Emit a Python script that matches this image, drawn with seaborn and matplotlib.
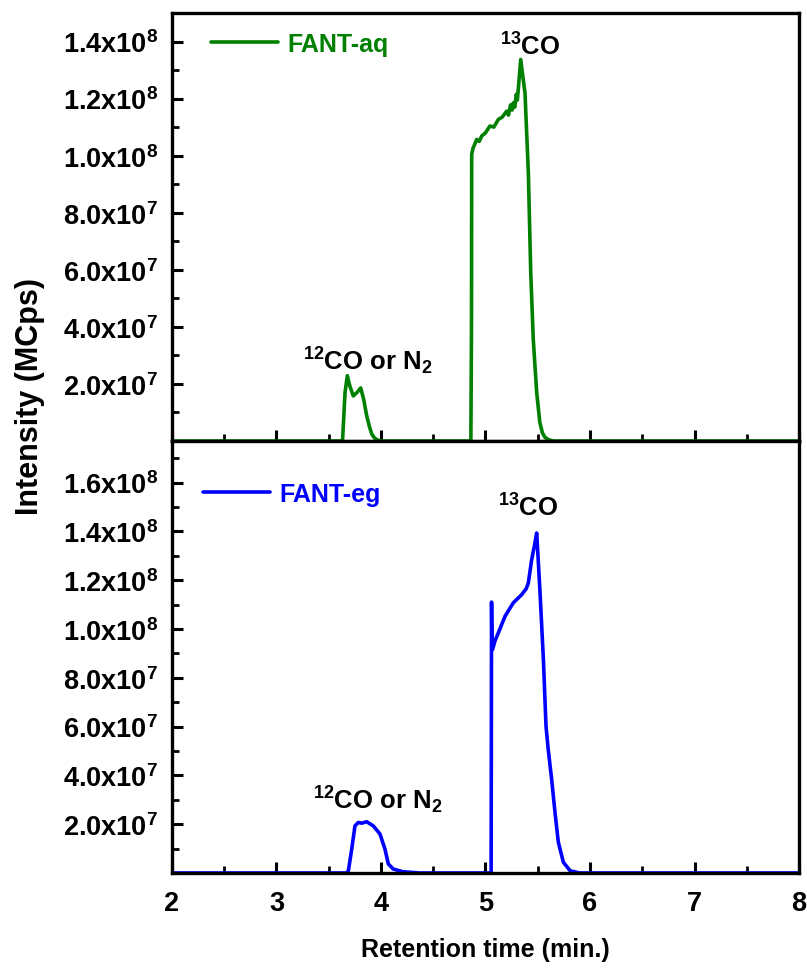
import numpy as np
import pandas as pd
import matplotlib
matplotlib.use("Agg")
import matplotlib.pyplot as plt
import seaborn as sns
from matplotlib.ticker import FixedLocator, MultipleLocator, FuncFormatter

sns.set_theme(style="white")
plt.rcParams['font.family'] = ['Liberation Sans', 'DejaVu Sans']
plt.rcParams['mathtext.default'] = 'regular'
plt.rcParams['text.color'] = 'black'
plt.rcParams['xtick.color'] = 'black'
plt.rcParams['ytick.color'] = 'black'
plt.rcParams['axes.labelcolor'] = 'black'

# ---- data (retention time in min, intensity in counts) ----
time_aq = [2.0, 3.62, 3.633, 3.656, 3.678, 3.70, 3.735, 3.77, 3.806, 3.835, 3.863, 3.89, 3.911,
           3.935, 3.959, 4.0, 4.86, 4.866, 4.868, 4.88, 4.916, 4.94, 4.964, 5.0, 5.043, 5.08,
           5.123, 5.16, 5.203, 5.22, 5.24, 5.255, 5.266, 5.28, 5.295, 5.305, 5.32, 5.337,
           5.36, 5.378, 5.41, 5.433, 5.457, 5.49, 5.52, 5.545, 5.569, 5.60, 5.65, 8.0]
int_aq = [0, 0, 0.7e6, 17e6, 22.9e6, 19.5e6, 15.8e6, 17.0e6, 18.6e6, 14.5e6, 8.9e6, 5.0e6, 2.5e6,
          1.2e6, 0.5e6, 0, 0, 40e6, 100.5e6, 102.5e6, 105.7e6, 105.0e6, 106.9e6, 108.0e6, 110.4e6,
          110.0e6, 112.7e6, 113.5e6, 115.6e6, 114.2e6, 117.8e6, 116.0e6, 118.5e6, 117.0e6,
          121.5e6, 119.5e6, 126.0e6, 133.7e6, 127.0e6, 122.0e6, 94.0e6, 59.0e6, 35.7e6, 17.0e6,
          6.5e6, 2.8e6, 1.3e6, 0.5e6, 0, 0]

time_eg = [2.0, 3.67, 3.688, 3.72, 3.751, 3.783, 3.815, 3.863, 3.926, 3.99, 4.038, 4.07, 4.118,
           4.21, 4.37, 5.05, 5.054, 5.058, 5.062, 5.068, 5.09, 5.123, 5.187, 5.266, 5.347, 5.39,
           5.41, 5.442, 5.47, 5.49, 5.522, 5.554, 5.579, 5.60, 5.633, 5.665, 5.697, 5.745,
           5.81, 5.9, 8.0]
int_eg = [0, 0, 0.9e6, 9.8e6, 19.3e6, 20.7e6, 20.4e6, 21.0e6, 19.3e6, 16.0e6, 9.8e6, 3.7e6, 1.6e6,
          0.5e6, 0, 0, 0.5e6, 111.0e6, 92.0e6, 91.6e6, 95.0e6, 98.4e6, 105.2e6, 110.7e6, 114.1e6,
          116.5e6, 118.9e6, 128.4e6, 134.5e6, 139.3e6, 114.8e6, 87.5e6, 60.2e6, 50.7e6, 38.4e6,
          24.8e6, 12.6e6, 4.4e6, 0.9e6, 0, 0]

label_aq = "FANT-aq"
label_eg = "FANT-eg"
color_aq = "#008000"
color_eg = "#0000FF"

x_ticks = [2, 3, 4, 5, 6, 7, 8]
y_ticks_top = [2e7, 4e7, 6e7, 8e7, 1.0e8, 1.2e8, 1.4e8]
y_ticks_bot = [2e7, 4e7, 6e7, 8e7, 1.0e8, 1.2e8, 1.4e8, 1.6e8]

df_aq = pd.DataFrame({"time": time_aq, "intensity": int_aq})
df_eg = pd.DataFrame({"time": time_eg, "intensity": int_eg})

fig = plt.figure(figsize=(8.07, 9.70), dpi=100)
ax1 = fig.add_axes([0.2131, 0.5443, 0.777, 0.4413])
ax2 = fig.add_axes([0.2131, 0.0990, 0.777, 0.4453])

FS = 19.5

def fmt(v, pos):
    if v == 0:
        return ""
    e = int(np.floor(np.log10(v) + 1e-9))
    m = v / 10 ** e
    return f"{m:.1f}x10$^{{{e}}}$"

sns.lineplot(data=df_aq, x="time", y="intensity", ax=ax1, color=color_aq, lw=2.6,
             label=label_aq, sort=False, estimator=None)
sns.lineplot(data=df_eg, x="time", y="intensity", ax=ax2, color=color_eg, lw=2.6,
             label=label_eg, sort=False, estimator=None)

legend_pos = {ax1: (0.062, 0.956), ax2: (0.049, 0.905)}

for ax, yt, ytop in [(ax1, y_ticks_top, 1.5e8), (ax2, y_ticks_bot, 1.77e8)]:
    ax.set_xlim(2, 8)
    ax.set_ylim(0, ytop)
    ax.xaxis.set_major_locator(FixedLocator(x_ticks))
    ax.xaxis.set_minor_locator(MultipleLocator(0.5))
    ax.yaxis.set_major_locator(FixedLocator(yt))
    ax.yaxis.set_minor_locator(MultipleLocator(1e7))
    ax.yaxis.set_major_formatter(FuncFormatter(fmt))
    ax.tick_params(which="major", direction="in", length=8, width=2.2, color="black",
                   labelcolor="black", labelsize=FS, pad=10,
                   top=False, right=False, bottom=True, left=True)
    ax.tick_params(which="minor", direction="in", length=5, width=2.0, color="black",
                   top=False, right=False, bottom=True, left=True)
    for s in ax.spines.values():
        s.set_linewidth(2.4)
        s.set_color("black")
    for lab in ax.get_xticklabels() + ax.get_yticklabels():
        lab.set_fontweight("bold")
    ax.set_xlabel("")
    ax.set_ylabel("")
    ax.legend(loc="upper left", bbox_to_anchor=legend_pos[ax], frameon=False,
              handlelength=2.7, handletextpad=0.35, borderaxespad=0, borderpad=0,
              labelcolor="linecolor", prop={"weight": "bold", "size": 18})

ax1.tick_params(labelbottom=False)
for lab in ax2.get_xticklabels():
    lab.set_fontweight("bold")
ax2.tick_params(axis="x", pad=12)

# annotations
AFS = 18.5
ax1.text(5.43, 1.355e8, "$^{13}$CO", ha="center", va="baseline", fontsize=AFS,
         fontweight="bold", color="black")
ax1.text(3.87, 2.52e7, "$^{12}$CO or N$_{2}$", ha="center", va="baseline", fontsize=AFS,
         fontweight="bold", color="black")
ax2.text(5.41, 1.464e8, "$^{13}$CO", ha="center", va="baseline", fontsize=AFS,
         fontweight="bold", color="black")
ax2.text(3.97, 2.65e7, "$^{12}$CO or N$_{2}$", ha="center", va="baseline", fontsize=AFS,
         fontweight="bold", color="black")

fig.text(0.601, 0.021, "Retention time (min.)", ha="center", va="center",
         fontsize=18, fontweight="bold", color="black")
fig.text(0.037, 0.591, "Intensity (MCps)", ha="center", va="center", rotation=90,
         fontsize=22, fontweight="bold", color="black")

fig.savefig("out.png", dpi=100)
